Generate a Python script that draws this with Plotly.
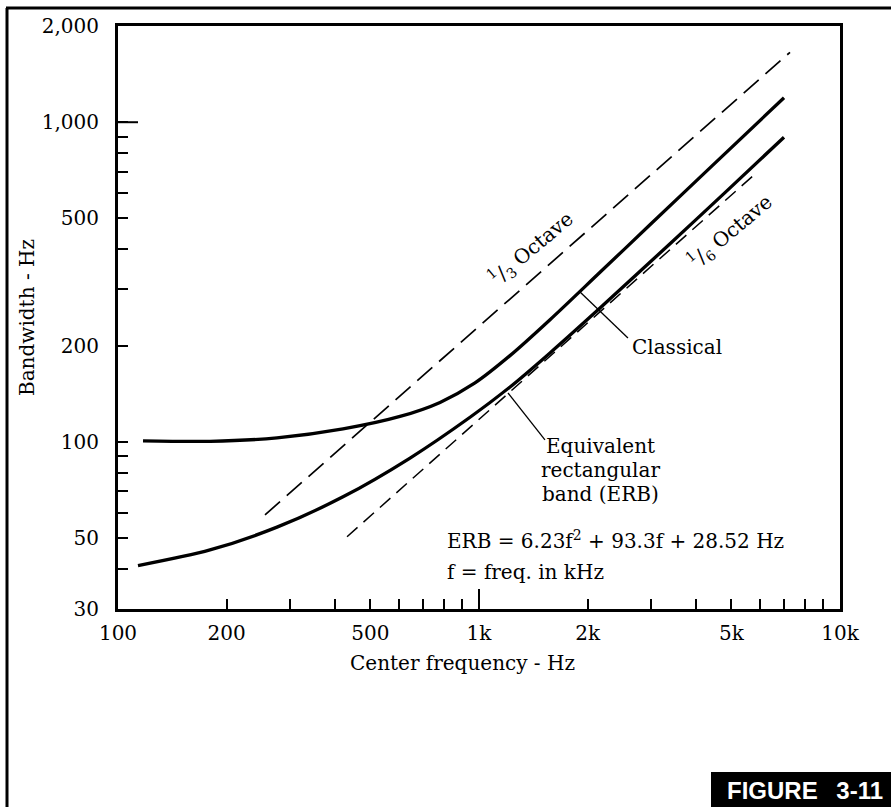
import math
import plotly.graph_objects as go

# ---------------- data ----------------
classical_freq = [117.3, 179.8, 275.7, 420.1, 604.1, 779.9, 974.8, 1218.5, 1573, 2164, 2976, 4392, 6997]
classical_bw = [100.7, 100.4, 102.9, 109.8, 120.1, 132.9, 152.9, 186.1, 241.1, 339.3, 477.6, 724.9, 1193]

erb_freq = [113.6, 179.8, 275.7, 420.1, 644.2, 944.4, 1219, 1573, 2164, 3382, 4802, 6997]
erb_bw = [41.0, 45.9, 54.1, 67.3, 89.0, 119.4, 148.5, 189.8, 262.2, 416.9, 602.1, 897.8]

third_oct_freq = [255.4, 7270]
third_oct_bw = [59.1, 1655]

sixth_oct_freq = [431, 5852]
sixth_oct_bw = [50.5, 692.8]

x_tick_vals = [100, 200, 500, 1000, 2000, 5000, 10000]
x_tick_text = ["100", "200", "500", "1k", "2k", "5k", "10k"]
x_minor_vals = [300, 400, 600, 700, 800, 900, 3000, 4000, 6000, 7000, 8000, 9000]

y_tick_vals = [30, 50, 100, 200, 500, 1000, 2000]
y_tick_text = ["30", "50", "100", "200", "500", "1,000", "2,000"]
y_minor_vals = [40, 60, 70, 80, 90, 300, 400, 600, 700, 800, 900]

# leader lines: (curve point, label end) in data units
classical_leader_freq = [1905, 2586]
classical_leader_bw = [294.3, 211.3]
erb_leader_freq = [1203, 1523]
erb_leader_bw = [142.2, 101.5]

# ---------------- layout helpers ----------------
W, H = 891, 807
L, R, T, B = 118, 840, 26, 609
SERIF = "DejaVu Serif, Liberation Serif, serif"
FS = 20


def px(x):
    return (x - L) / (R - L)


def py(y):
    return (B - y) / (B - T)


fig = go.Figure()

fig.add_trace(go.Scatter(x=third_oct_freq, y=third_oct_bw, mode="lines",
                         line=dict(color="black", width=1.7, dash="20px,9px"),
                         hoverinfo="skip"))
fig.add_trace(go.Scatter(x=sixth_oct_freq, y=sixth_oct_bw, mode="lines",
                         line=dict(color="black", width=1.5, dash="14px,8px"),
                         hoverinfo="skip"))
fig.add_trace(go.Scatter(x=classical_freq, y=classical_bw, mode="lines",
                         line=dict(color="black", width=3.3, shape="spline", smoothing=0.8),
                         hoverinfo="skip"))
fig.add_trace(go.Scatter(x=erb_freq, y=erb_bw, mode="lines",
                         line=dict(color="black", width=3.3, shape="spline", smoothing=0.8),
                         hoverinfo="skip"))

axis_common = dict(
    type="log", ticks="inside", ticklen=10, tickwidth=2, tickcolor="black",
    showline=True, linewidth=3, linecolor="black", mirror=True,
    showgrid=False, zeroline=False,
    tickfont=dict(family=SERIF, size=FS, color="black"),
)

fig.update_xaxes(
    range=[math.log10(100), math.log10(10000)],
    tickmode="array", tickvals=x_tick_vals, ticktext=x_tick_text,
    minor=dict(tickmode="array", tickvals=x_minor_vals, ticks="inside",
               ticklen=10, tickwidth=2, tickcolor="black", showgrid=False),
    ticklabelstandoff=4,
    **axis_common,
)
fig.update_yaxes(
    range=[math.log10(30), math.log10(2000)],
    tickmode="array", tickvals=y_tick_vals, ticktext=y_tick_text,
    minor=dict(tickmode="array", tickvals=y_minor_vals, ticks="inside",
               ticklen=10, tickwidth=2, tickcolor="black", showgrid=False),
    ticklabelstandoff=12,
    **axis_common,
)

shapes = [
    # longer ticks at 1k / 1,000
    dict(type="line", xref="x", yref="paper", x0=1000, x1=1000, y0=0, y1=20 / (B - T),
         line=dict(color="black", width=2)),
    dict(type="line", xref="paper", yref="y", x0=0, x1=20 / (R - L), y0=1000, y1=1000,
         line=dict(color="black", width=2)),
    # leader lines
    dict(type="line", xref="x", yref="y",
         x0=classical_leader_freq[0], x1=classical_leader_freq[1],
         y0=classical_leader_bw[0], y1=classical_leader_bw[1],
         line=dict(color="black", width=1.3)),
    dict(type="line", xref="x", yref="y",
         x0=erb_leader_freq[0], x1=erb_leader_freq[1],
         y0=erb_leader_bw[0], y1=erb_leader_bw[1],
         line=dict(color="black", width=1.3)),
    # outer page frame (left and top)
    dict(type="line", xref="paper", yref="paper", x0=px(7), x1=px(7), y0=py(8), y1=py(H + 5),
         line=dict(color="black", width=3)),
    dict(type="line", xref="paper", yref="paper", x0=px(6), x1=px(W + 5), y0=py(8), y1=py(8),
         line=dict(color="black", width=3)),
    # figure badge
    dict(type="rect", xref="paper", yref="paper", x0=px(711), x1=px(W + 5),
         y0=py(H + 5), y1=py(772), fillcolor="black", line=dict(width=0)),
]

ann = []


def text(t, x, y, xanchor="center", angle=0, size=FS, family=SERIF, color="black"):
    ann.append(dict(text=t, x=px(x), y=py(y), xref="paper", yref="paper",
                    xanchor=xanchor, yanchor="middle", showarrow=False,
                    textangle=angle, font=dict(family=family, size=size, color=color)))


text("<sup>1</sup>/<sub>3</sub> Octave", 531, 248, angle=-40)
text("<sup>1</sup>/<sub>6</sub> Octave", 730, 231, angle=-40)
text("Classical", 630, 347, xanchor="left")
text("Equivalent", 600, 446)
text("rectangular", 600, 470)
text("band (ERB)", 600, 494)
text("ERB = 6.23f<sup>2</sup> + 93.3f + 28.52 Hz", 445, 540, xanchor="left")
text("f = freq. in kHz", 445, 572, xanchor="left")
text("Center frequency - Hz", 462, 663)
text("Bandwidth - Hz", 27, 318, angle=-90)
text("<b>FIGURE\u2002 3-11</b>", 805, 790, size=24,
     family="Liberation Sans Narrow, Liberation Sans, Arial, sans-serif", color="white")

fig.update_layout(
    width=W, height=H,
    margin=dict(l=L, r=W - R, t=T, b=H - B, pad=0),
    paper_bgcolor="white", plot_bgcolor="white",
    showlegend=False,
    shapes=shapes, annotations=ann,
)

fig.write_html("out.html", config={"displayModeBar": False},
               post_script="document.body.style.margin='0';document.body.style.overflow='hidden';")
